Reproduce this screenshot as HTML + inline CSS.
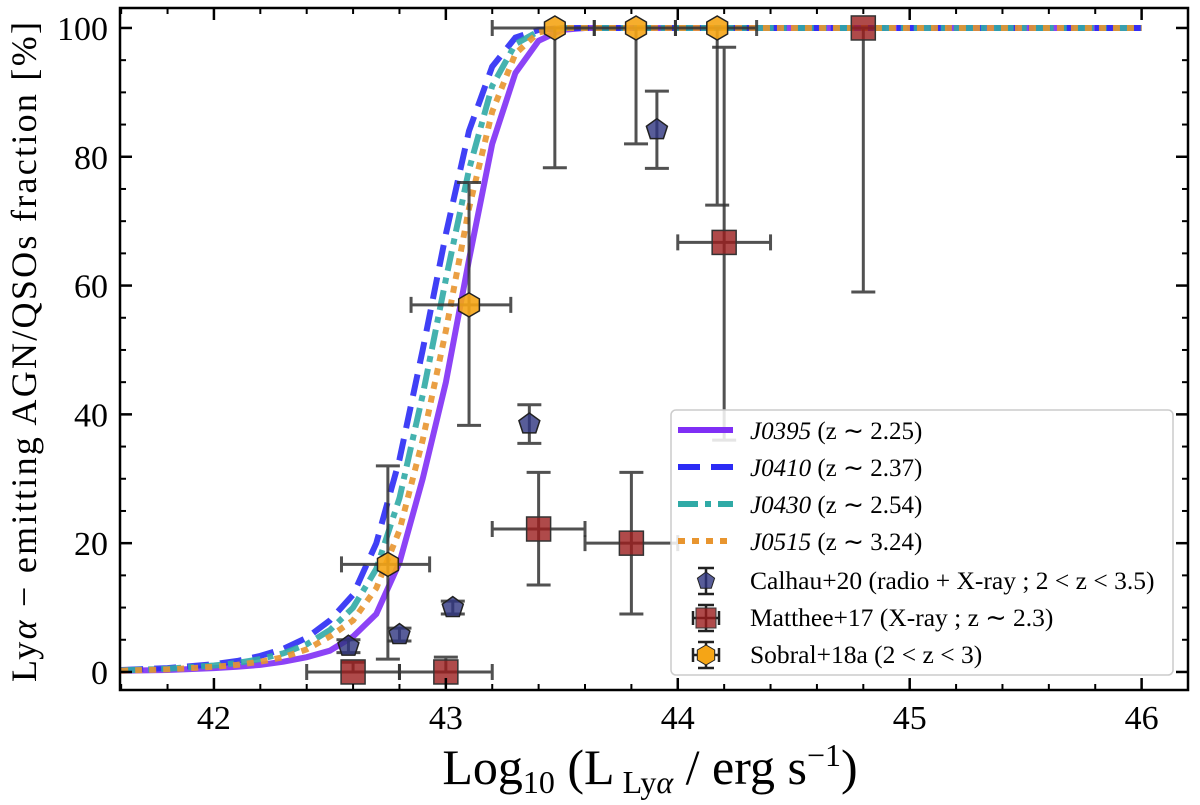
<!DOCTYPE html>
<html><head><meta charset="utf-8"><style>
body{margin:0;background:#fff}
svg{font-family:"Liberation Serif",serif}
</style></head><body>
<svg id="chart" width="1200" height="800" viewBox="0 0 1200 800">
<g id="grid"></g>
<g id="curves"></g>
<g id="points"></g>
<g id="axes"></g>
<g id="legend"></g>
</svg>
<script>
const xGrid=[41.6,41.8,42.0,42.1,42.2,42.3,42.4,42.5,42.6,42.7,42.8,42.9,43.0,43.1,43.2,43.3,43.4,43.5,43.6,46.0];
const j0395=[0.2,0.3,0.6,0.8,1.1,1.6,2.3,3.3,5.5,9,17,30,45,64,82,93,98,99.7,100,100];
const j0410=[0.3,0.6,1.2,1.7,2.5,3.6,5.3,8,12,20,33,50,68,84,94,98.5,99.7,100,100,100];
const j0430=[0.25,0.5,1.0,1.4,2.0,2.9,4.3,6.5,10,16,27,43,61,78,91,97.5,99.5,100,100,100];
const j0515=[0.2,0.4,0.8,1.1,1.6,2.3,3.5,5.5,8,13,22,36,53,72,87,96,99.3,100,100,100];
const calX=[42.58,42.8,43.03,43.36,43.91];
const calY=[4,5.8,10,38.5,84.2];
const calLo=[3,4.8,9,35.5,78.2];
const calHi=[5,6.8,11,41.5,90.2];
const matX=[42.6,43.0,43.4,43.8,44.2,44.8];
const matY=[0,0,22.2,20,66.7,100];
const matXlo=[42.4,42.8,43.2,43.6,44.0,44.8];
const matXhi=[42.8,43.2,43.6,44.0,44.4,44.8];
const matLo=[0,0,13.5,9,36,59];
const matHi=[1.5,2.3,31,31,97,100];
const sobX=[42.75,43.1,43.47,43.82,44.17];
const sobY=[16.7,57,100,100,100];
const sobXlo=[42.55,42.85,43.2,43.64,43.99];
const sobXhi=[42.93,43.28,43.64,43.99,44.34];
const sobLo=[2,38.3,78.3,82,72.5];
const sobHi=[32,76,100,100,100];
const xTicks=[42,43,44,45,46];
const yTicks=[0,20,40,60,80,100];

const NS="http://www.w3.org/2000/svg";
const L=120,R=1188,T=8,B=690;
const X0=41.595,X1=46.2,Y0=-2.8,Y1=103.1;
const sx=v=>L+(v-X0)/(X1-X0)*(R-L);
const sy=v=>B-(v-Y0)/(Y1-Y0)*(B-T);
function mk(tag,attrs,parent,text){const e=document.createElementNS(NS,tag);for(const k in attrs)e.setAttribute(k,attrs[k]);if(text!==undefined)e.textContent=text;document.getElementById(parent).appendChild(e);return e;}

const specs=[[j0395,'#7f2ff5','none','curve-j0395'],[j0410,'#2b2bf5','22,11','curve-j0410'],[j0430,'#30aaa6','20,7,6,7','curve-j0430'],[j0515,'#e8952f','7,7','curve-j0515']];
specs.forEach(s=>{
  const d=xGrid.map((x,i)=>(i?'L':'M')+sx(x).toFixed(1)+','+sy(s[0][i]).toFixed(1)).join(' ');
  const p=mk('path',{d:d,fill:'none',stroke:s[1],'stroke-width':6,'stroke-dasharray':s[2],opacity:0.9},'curves');
  
  
});

function errbar(x,y,xl,xh,yl,yh,name){
  const g=mk('g',{stroke:'#333','stroke-width':3,opacity:0.85},'points');
  
  
  const e=document.createElementNS(NS,'path');
  let d='M'+sx(x)+','+sy(yl)+'V'+sy(yh)+'M'+(sx(x)-12)+','+sy(yl)+'h24M'+(sx(x)-12)+','+sy(yh)+'h24';
  if(xl!==xh){d+='M'+sx(xl)+','+sy(y)+'H'+sx(xh)+'M'+sx(xl)+','+(sy(y)-8)+'v16M'+sx(xh)+','+(sy(y)-8)+'v16';}
  e.setAttribute('d',d);e.setAttribute('fill','none');g.appendChild(e);
}
function poly(cx,cy,n,r,rot){let pts=[];for(let k=0;k<n;k++){const a=rot+k*2*Math.PI/n;pts.push((cx+r*Math.cos(a)).toFixed(1)+','+(cy+r*Math.sin(a)).toFixed(1));}return pts.join(' ');}

calX.forEach((x,i)=>{
  errbar(x,calY[i],x,x,calLo[i],calHi[i],'calhau-'+i);
  const p=mk('polygon',{points:poly(sx(x),sy(calY[i]),5,11,-Math.PI/2),fill:'#2e3480','fill-opacity':0.8,stroke:'#222','stroke-width':1.5},'points');
  
  
});
matX.forEach((x,i)=>{
  errbar(x,matY[i],matXlo[i],matXhi[i],matLo[i],matHi[i],'matthee-'+i);
  const p=mk('rect',{x:sx(x)-12,y:sy(matY[i])-12,width:24,height:24,fill:'#9b1d1d','fill-opacity':0.8,stroke:'#333','stroke-width':1.5},'points');
  
  
});
sobX.forEach((x,i)=>{
  errbar(x,sobY[i],sobXlo[i],sobXhi[i],sobLo[i],sobHi[i],'sobral-'+i);
  const p=mk('polygon',{points:poly(sx(x),sy(sobY[i]),6,12,Math.PI/6),fill:'#f5a516','fill-opacity':0.9,stroke:'#222','stroke-width':1.5},'points');
  
  
});

const frame=mk('rect',{x:L,y:T,width:R-L,height:B-T,fill:'none',stroke:'#000','stroke-width':2.5},'axes');


for(let v=41.6;v<=46.2001;v+=0.2){
  const major=xTicks.some(t=>Math.abs(t-v)<1e-6);const len=major?12:6;
  mk('line',{x1:sx(v),x2:sx(v),y1:B,y2:B-len,stroke:'#000','stroke-width':major?2.5:2},'axes');
  mk('line',{x1:sx(v),x2:sx(v),y1:T,y2:T+len,stroke:'#000','stroke-width':major?2.5:2},'axes');
}
for(let v=0;v<=100;v+=5){
  const major=v%20===0;const len=major?12:6;
  mk('line',{x1:L,x2:L+len,y1:sy(v),y2:sy(v),stroke:'#000','stroke-width':major?2.5:2},'axes');
  mk('line',{x1:R,x2:R-len,y1:sy(v),y2:sy(v),stroke:'#000','stroke-width':major?2.5:2},'axes');
}
xTicks.forEach(t=>{
  const e=mk('text',{x:sx(t),y:729,'text-anchor':'middle','font-size':34},'axes',String(t));
  
  
});
yTicks.forEach(t=>{
  const e=mk('text',{x:108,y:sy(t)+12,'text-anchor':'end','font-size':34},'axes',String(t));
  
  
});
const xt=mk('text',{x:650,y:784,'text-anchor':'middle','font-size':50},'axes');
xt.innerHTML='Log<tspan font-size="32" dy="9">10</tspan><tspan dy="-9">  (L</tspan><tspan font-size="32" dy="9"> Ly<tspan font-style="italic">α</tspan></tspan><tspan dy="-9"> / erg s</tspan><tspan font-size="32" dy="-18">−1</tspan><tspan dy="18">)</tspan>';


const yt=mk('text',{x:0,y:0,'text-anchor':'middle','font-size':36,transform:'translate(36,352) rotate(-90)',textLength:660,lengthAdjust:'spacing'},'axes');
yt.innerHTML='Ly<tspan font-style="italic">α</tspan> − emitting AGN/QSOs fraction  [%]';



const lb=mk('rect',{x:671,y:410,width:502,height:265,rx:5,fill:'#fff','fill-opacity':0.85,stroke:'#ccc','stroke-width':1.5},'legend');


const legTxt=['J0395 (z ∼ 2.25)','J0410 (z ∼ 2.37)','J0430 (z ∼ 2.54)','J0515 (z ∼ 3.24)'];
specs.forEach((s,i)=>{
  const y=430+i*37;
  const l=mk('line',{x1:678,x2:733,y1:y,y2:y,stroke:s[1],'stroke-width':6,'stroke-dasharray':s[2]},'legend');
  
  
  const parts=legTxt[i].split(' ');
  const t=mk('text',{x:750,y:y+9,'font-size':25},'legend');
  t.innerHTML='<tspan font-style="italic">'+parts[0]+'</tspan> '+parts.slice(1).join(' ');
  
  
});
const mkLab=['Calhau+20 (radio + X-ray ; 2 < z < 3.5)','Matthee+17 (X-ray ; z ∼ 2.3)','Sobral+18a (2 < z < 3)'];
mkLab.forEach((s,i)=>{
  const y=581+i*37,cx=706;
  mk('path',{d:'M'+cx+','+(y-13)+'v26M'+(cx-8)+','+(y-13)+'h16M'+(cx-8)+','+(y+13)+'h16'+(i?'M'+(cx-13)+','+y+'h26M'+(cx-13)+','+(y-7)+'v14M'+(cx+13)+','+(y-7)+'v14':''),stroke:'#222','stroke-width':2.5,fill:'none'},'legend');
  if(i===0)mk('polygon',{points:poly(cx,y,5,9,-Math.PI/2),fill:'#2e3480','fill-opacity':0.8,stroke:'#222'},'legend');
  if(i===1)mk('rect',{x:cx-10,y:y-10,width:20,height:20,fill:'#9b1d1d','fill-opacity':0.8,stroke:'#333'},'legend');
  if(i===2)mk('polygon',{points:poly(cx,y,6,10,Math.PI/6),fill:'#f5a516',stroke:'#222'},'legend');
  const t=mk('text',{x:750,y:y+8,'font-size':25.5},'legend',s);
  
  
});
</script>
</body></html>
